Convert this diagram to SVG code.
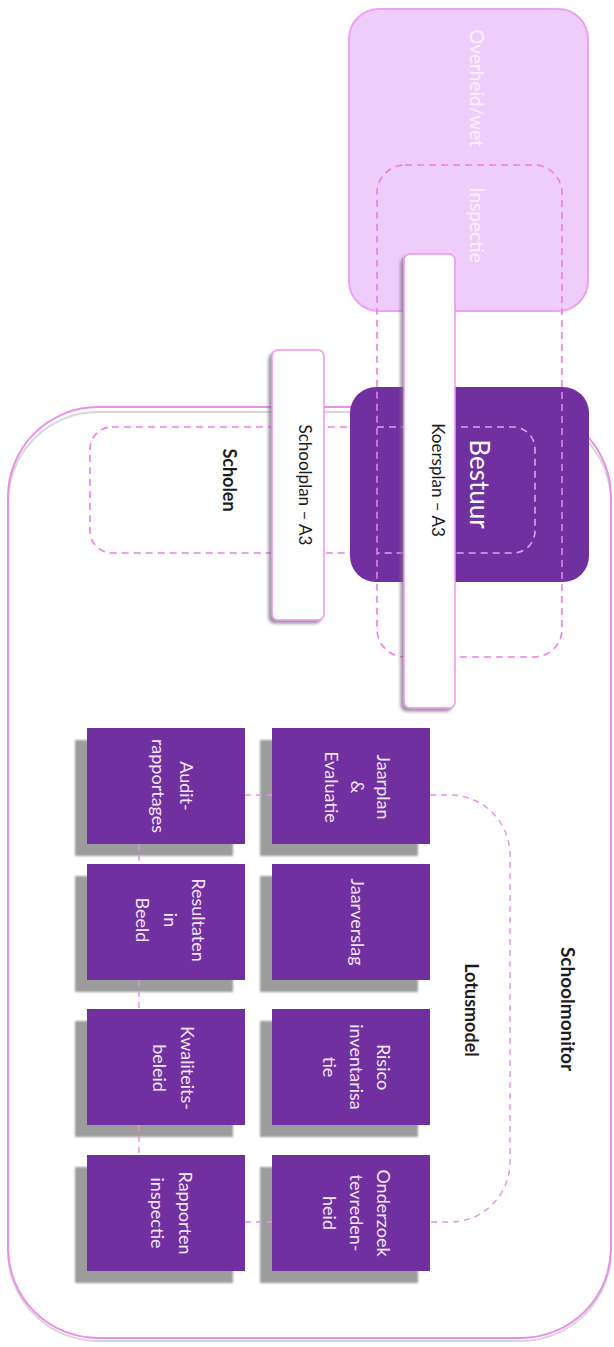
<svg xmlns="http://www.w3.org/2000/svg" width="614" height="1347" viewBox="0 0 614 1347">
<defs>
<filter id="barShadow" x="-30%" y="-10%" width="160%" height="120%">
<feDropShadow dx="-3" dy="3" stdDeviation="1.5" flood-color="#7a6a80" flood-opacity="0.7"/>
</filter>
<filter id="blur1"><feGaussianBlur stdDeviation="1.2"/></filter>
</defs>
<style>
text{font-family:Lato,"Open Sans","Liberation Sans",sans-serif;text-anchor:middle;dominant-baseline:central}
.dash{fill:none;stroke:#e97fe9;stroke-width:1.6;stroke-dasharray:7 5}
.box{fill:#7030a0}
.shadow{fill:#9c9c9c;filter:url(#blur1)}
.boxtxt{fill:#f3e6fb;font-size:18px}
.dark{fill:#1c1c1c}
.bar{fill:#ffffff;stroke:#ef94ef;stroke-width:1.5;filter:url(#barShadow)}
.conn{fill:none;stroke:#e690e6;stroke-width:1.4;stroke-dasharray:6 5}
</style>
<rect width="614" height="1347" fill="#ffffff"/>

<g id="schoolmonitor">
<rect x="8" y="412" width="603" height="929" rx="90" fill="none" stroke="#c4c4c4" stroke-width="2" opacity="0.7"/>
<rect x="8" y="407" width="603" height="931" rx="90" fill="none" stroke="#e98fe9" stroke-width="2"/>
<text class="dark" font-weight="bold" font-size="19" transform="translate(568,1009) rotate(90)">Schoolmonitor</text>
</g>

<g id="overheid">
<rect x="349" y="9" width="239" height="302" rx="30" fill="#efcdfb" stroke="#eda2f0" stroke-width="2"/>
<text fill="#fbf2ff" font-size="19" transform="translate(477,88) rotate(90)">Overheid/wet</text>
</g>

<g id="scholen">
<rect class="dash" x="90" y="427" width="445" height="126" rx="22"/>
<text class="dark" font-weight="bold" font-size="18" transform="translate(230,480) rotate(90)">Scholen</text>
</g>

<g id="bestuur">
<rect x="350" y="387" width="239" height="195" rx="26" fill="#7030a0"/>
<path d="M377 427 H513 A22 22 0 0 1 535 449 V531 A22 22 0 0 1 513 553 H377" fill="none" stroke="#d9a6f2" stroke-width="1.6" stroke-dasharray="7 5"/>
<text fill="#ffffff" font-size="26" transform="translate(480,484) rotate(90)">Bestuur</text>
</g>

<g id="inspectie">
<rect class="dash" x="377" y="165" width="185" height="492" rx="28"/>
<text fill="#fbf2ff" font-size="19" transform="translate(477,225) rotate(90)">Inspectie</text>
</g>

<g id="koersplan">
<rect class="bar" x="404" y="254" width="51" height="454" rx="6"/>
<text class="dark" font-size="17" transform="translate(438,480) rotate(90)">Koersplan – A3</text>
</g>

<g id="schoolplan">
<rect class="bar" x="272" y="350" width="52" height="270" rx="6"/>
<text class="dark" font-size="17" transform="translate(305,485) rotate(90)">Schoolplan – A3</text>
</g>

<g id="lotusmodel">
<text class="dark" font-weight="bold" font-size="18" transform="translate(472,1010) rotate(90)">Lotusmodel</text>
</g>

<g id="jaarplan">
<rect class="shadow" x="260" y="740" width="158" height="116"/>
<rect class="box" x="272" y="728" width="158" height="116"/>
<text class="boxtxt" transform="translate(358,787) rotate(90)"><tspan x="0" y="-26">Jaarplan</tspan><tspan x="0" y="0">&amp;</tspan><tspan x="0" y="26">Evaluatie</tspan></text>
</g>
<g id="jaarverslag">
<rect class="shadow" x="260" y="876" width="158" height="116"/>
<rect class="box" x="272" y="864" width="158" height="116"/>
<text class="boxtxt" transform="translate(358,922) rotate(90)">Jaarverslag</text>
</g>
<g id="risico">
<rect class="shadow" x="260" y="1021" width="158" height="116"/>
<rect class="box" x="272" y="1009" width="158" height="116"/>
<text class="boxtxt" transform="translate(357,1067) rotate(90)"><tspan x="0" y="-27">Risico</tspan><tspan x="0" y="0">inventarisa</tspan><tspan x="0" y="27">tie</tspan></text>
</g>
<g id="onderzoek">
<rect class="shadow" x="260" y="1167" width="158" height="116"/>
<rect class="box" x="272" y="1155" width="158" height="116"/>
<text class="boxtxt" transform="translate(357,1213) rotate(90)"><tspan x="0" y="-27">Onderzoek</tspan><tspan x="0" y="0">tevreden-</tspan><tspan x="0" y="27">heid</tspan></text>
</g>
<g id="audit">
<rect class="shadow" x="75" y="740" width="158" height="116"/>
<rect class="box" x="87" y="728" width="158" height="116"/>
<text class="boxtxt" transform="translate(173,786) rotate(90)"><tspan x="0" y="-14">Audit-</tspan><tspan x="0" y="14">rapportages</tspan></text>
</g>
<g id="resultaten">
<rect class="shadow" x="75" y="876" width="158" height="116"/>
<rect class="box" x="87" y="864" width="158" height="116"/>
<text class="boxtxt" transform="translate(171,920) rotate(90)"><tspan x="0" y="-28">Resultaten</tspan><tspan x="0" y="0">in</tspan><tspan x="0" y="28">Beeld</tspan></text>
</g>
<g id="kwaliteit">
<rect class="shadow" x="75" y="1021" width="158" height="116"/>
<rect class="box" x="87" y="1009" width="158" height="116"/>
<text class="boxtxt" transform="translate(174,1068) rotate(90)"><tspan x="0" y="-14">Kwaliteits-</tspan><tspan x="0" y="14">beleid</tspan></text>
</g>
<g id="rapporten">
<rect class="shadow" x="75" y="1167" width="158" height="116"/>
<rect class="box" x="87" y="1155" width="158" height="116"/>
<text class="boxtxt" transform="translate(172,1213) rotate(90)"><tspan x="0" y="-14">Rapporten</tspan><tspan x="0" y="14">inspectie</tspan></text>
</g>

<g id="connectors">
<path class="conn" d="M245 795 H272"/>
<path class="conn" d="M245 1222 H272"/>
<path class="conn" d="M139 844 V864"/>
<path class="conn" d="M139 980 V1009"/>
<path class="conn" d="M139 1125 V1155"/>
<path class="conn" d="M430 795 H450 A60 60 0 0 1 510 855 V1162 A60 60 0 0 1 450 1222 H430"/>
</g>
</svg>
